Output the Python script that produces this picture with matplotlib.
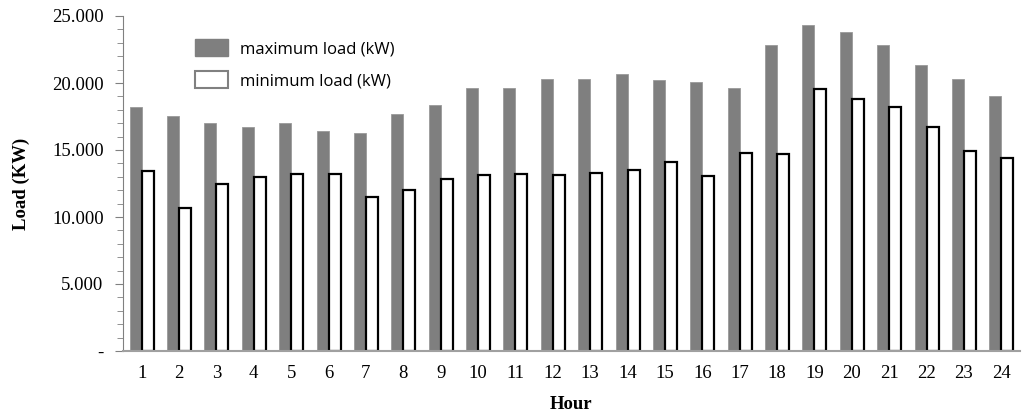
import numpy as np
import matplotlib.pyplot as plt
from matplotlib.patches import Patch
from matplotlib.ticker import FuncFormatter, MultipleLocator

hours = list(range(1, 25))
max_load = [18200, 17550, 17050, 16750, 17050, 16450, 16250, 17700, 18350, 19650,
            19650, 20300, 20300, 20650, 20250, 20050, 19650, 22800, 24350, 23800,
            22800, 21350, 20300, 19000]
min_load = [13400, 10700, 12450, 12950, 13200, 13200, 11500, 12000, 12850, 13150,
            13200, 13150, 13300, 13500, 14100, 13050, 14800, 14700, 19550, 18800,
            18200, 16700, 14900, 14400]

plt.rcParams['font.family'] = ['Liberation Serif']

fig = plt.figure(figsize=(10.31, 4.16), dpi=100)
ax = fig.add_axes([123/1031, 65/416, 897/1031, 335/416])

x = np.array(hours)
w = 0.32
ax.bar(x - w/2, max_load, w, color='#7f7f7f', edgecolor='#9a9a9a', linewidth=0.6)
ax.bar(x + w/2, min_load, w, color='white', edgecolor='black', linewidth=1.6)

ax.set_xlim(0.5, 24.5)
ax.set_ylim(0, 25000)
ax.set_xticks(hours)
ax.yaxis.set_major_locator(MultipleLocator(5000))
ax.yaxis.set_minor_locator(MultipleLocator(1000))

def fmt(v, pos):
    if v == 0:
        return '-'
    return '{:,.0f}'.format(v).replace(',', '.')

ax.yaxis.set_major_formatter(FuncFormatter(fmt))
ax.tick_params(axis='x', length=0, labelsize=13.5, pad=10)
ax.tick_params(axis='y', which='major', length=6, color='#808080', labelsize=13.5, pad=8)
ax.tick_params(axis='y', which='minor', length=4, color='#808080')

for s in ['top', 'right']:
    ax.spines[s].set_visible(False)
ax.spines['left'].set_color('#808080')
ax.spines['bottom'].set_color('#a0a0a0')
ax.spines['bottom'].set_linewidth(1.5)

ax.set_xlabel('Hour', fontsize=13.5, fontweight='bold', labelpad=10)
ax.set_ylabel('Load (KW)', fontsize=13.5, fontweight='bold', labelpad=16)

handles = [Patch(facecolor='#7f7f7f', edgecolor='#7f7f7f', label='maximum load (kW)'),
           Patch(facecolor='white', edgecolor='#808080', linewidth=1.5, label='minimum load (kW)')]
ax.legend(handles=handles, loc='upper left', bbox_to_anchor=(0.063, 0.975), frameon=False,
          prop={'family': 'Open Sans', 'size': 12}, handlelength=2.0, handleheight=1.2,
          labelspacing=0.8, handletextpad=0.7)

fig.savefig('out.png', dpi=100)
